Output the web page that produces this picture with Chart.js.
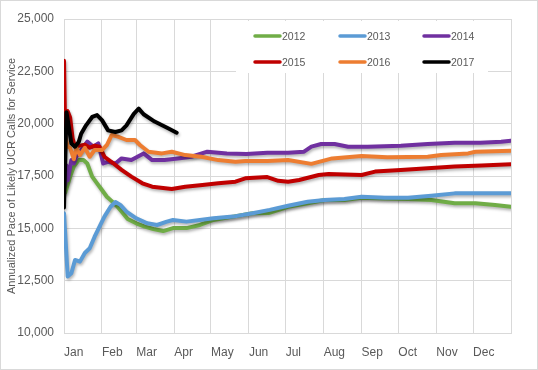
<!DOCTYPE html>
<html>
<head>
<meta charset="utf-8">
<script src="https://cdn.jsdelivr.net/npm/chart.js@4"></script>
<style>
  html, body { margin: 0; padding: 0; background: #fff; }
  canvas { display: block; }
</style>
</head>
<body>
<canvas id="paceChart" width="538" height="370"></canvas>
<script>
// month starts as day-of-year, plus the year end
const monthStarts = [0, 31, 59, 90, 120, 151, 181, 212, 243, 273, 304, 334, 365];
const monthLabels = ['Jan', 'Feb', 'Mar', 'Apr', 'May', 'Jun', 'Jul', 'Aug', 'Sep', 'Oct', 'Nov', 'Dec', ''];
const yTicks = [10000, 12500, 15000, 17500, 20000, 22500, 25000];

const days2012 = [0, 1, 5, 8, 12, 16, 19, 23, 27, 31, 35, 39, 43, 47, 52, 59, 66, 73, 81, 89, 100, 111, 122, 138, 154, 167, 183, 199, 213, 229, 243, 262, 281, 300, 319, 336, 352, 365];
const pace2012 = [19200, 16700, 17470, 17950, 18260, 18260, 18100, 17470, 17150, 16830, 16510, 16300, 16080, 15800, 15450, 15240, 15080, 14970, 14870, 15010, 15010, 15160, 15400, 15560, 15720, 15730, 16030, 16200, 16350, 16350, 16460, 16430, 16400, 16350, 16200, 16200, 16110, 16030];

const days2013 = [0, 3, 6, 9, 13, 17, 21, 25, 29, 33, 38, 42, 46, 51, 59, 68, 76, 84, 89, 100, 111, 122, 138, 154, 168, 183, 199, 213, 229, 243, 262, 281, 300, 319, 336, 365];
const pace2013 = [15720, 12700, 12850, 13490, 13410, 13820, 14050, 14600, 15080, 15560, 16030, 16260, 16120, 15800, 15480, 15240, 15160, 15320, 15400, 15320, 15400, 15480, 15560, 15720, 15880, 16080, 16270, 16350, 16400, 16510, 16460, 16460, 16560, 16670, 16670, 16670];

const days2014 = [1, 2, 3, 6, 8, 10, 14, 19, 24, 28, 32, 36, 42, 47, 55, 65, 72, 82, 93, 104, 117, 133, 149, 166, 183, 196, 202, 210, 221, 232, 248, 275, 297, 319, 340, 357, 365];
const pace2014 = [17100, 18000, 17300, 18260, 18100, 18420, 18740, 19140, 18900, 19060, 18100, 18180, 18100, 18340, 18260, 18580, 18260, 18260, 18340, 18420, 18660, 18580, 18550, 18610, 18610, 18660, 18900, 19030, 19030, 18900, 18900, 18950, 19030, 19090, 19090, 19140, 19190];

const days2015 = [0, 1, 3, 5, 7, 9, 13, 17, 21, 25, 29, 33, 40, 47, 55, 64, 72, 88, 99, 113, 126, 140, 148, 166, 175, 183, 192, 208, 216, 243, 254, 275, 297, 319, 341, 365];
const pace2015 = [23000, 19500, 20600, 20300, 19300, 18900, 18950, 19000, 18850, 18950, 18900, 18420, 18120, 17790, 17470, 17150, 16990, 16880, 16990, 17070, 17150, 17230, 17390, 17450, 17270, 17230, 17310, 17550, 17590, 17550, 17710, 17790, 17870, 17950, 18000, 18060];

const days2016 = [0, 3, 5, 8, 10, 13, 17, 21, 25, 31, 35, 39, 44, 51, 58, 62, 69, 80, 88, 99, 112, 126, 140, 148, 166, 183, 202, 219, 243, 264, 297, 308, 330, 336, 365];
const pace2016 = [19700, 18900, 18850, 18300, 18850, 18500, 18850, 18420, 18740, 18740, 18980, 19460, 19380, 19220, 19220, 18980, 18660, 18580, 18660, 18500, 18420, 18260, 18180, 18220, 18220, 18260, 18080, 18340, 18450, 18400, 18420, 18500, 18580, 18660, 18710];

const days2017 = [0, 2, 3, 6, 9, 12, 14, 18, 23, 27, 31, 36, 42, 47, 51, 57, 61, 65, 74, 85, 92];
const pace2017 = [16000, 20550, 20200, 19050, 18900, 19120, 19520, 19920, 20320, 20410, 20170, 19680, 19600, 19680, 19920, 20470, 20720, 20450, 20100, 19780, 19570];

const seriesLabels = ['2012', '2013', '2014', '2015', '2016', '2017'];
const seriesColors = ['#70ad47', '#5b9bd5', '#7030a0', '#c00000', '#ed7d31', '#000000'];
const seriesDays = [days2012, days2013, days2014, days2015, days2016, days2017];
const seriesPace = [pace2012, pace2013, pace2014, pace2015, pace2016, pace2017];

const textColor = '#595959';
const gridColor = '#d9d9d9';

const frame = {
    id: 'frame',
    beforeDraw(chart) {
        const ctx = chart.ctx;
        ctx.save();
        ctx.fillStyle = '#fff';
        ctx.fillRect(0, 0, chart.width, chart.height);
        ctx.restore();
    },
    beforeDatasetsDraw(chart) {
        const ctx = chart.ctx;
        ctx.save();
        ctx.shadowColor = 'rgba(0, 0, 0, 0.3)';
        ctx.shadowBlur = 3;
        ctx.shadowOffsetX = 1;
        ctx.shadowOffsetY = 2;
    },
    afterDatasetsDraw(chart) {
        chart.ctx.restore();
    },
    afterDraw(chart) {
        const ctx = chart.ctx;
        ctx.save();
        // legend box sits inside the plot, top right
        ctx.fillStyle = '#fff';
        ctx.fillRect(236, 21, 252, 52);
        const cols = [255, 340, 424];
        const rows = [36, 62];
        ctx.font = '10.5px "Liberation Sans", Arial, sans-serif';
        ctx.textBaseline = 'middle';
        ctx.textAlign = 'left';
        chart.data.datasets.forEach((ds, i) => {
            const x = cols[i % 3];
            const y = rows[Math.floor(i / 3)];
            ctx.strokeStyle = ds.borderColor;
            ctx.lineWidth = 3.5;
            ctx.lineCap = 'round';
            ctx.beginPath();
            ctx.moveTo(x, y);
            ctx.lineTo(x + 25, y);
            ctx.stroke();
            ctx.fillStyle = textColor;
            ctx.fillText(ds.label, x + 27, y + 1);
        });
        // outer chart border
        ctx.strokeStyle = gridColor;
        ctx.lineWidth = 1;
        ctx.strokeRect(0.5, 0.5, chart.width - 1, chart.height - 1);
        ctx.restore();
    }
};

const datasets = seriesLabels.map((label, i) => ({
    label: label,
    data: seriesDays[i].map((d, j) => ({ x: d, y: seriesPace[i][j] })),
    borderColor: seriesColors[i],
    backgroundColor: seriesColors[i],
    borderWidth: 4,
    borderJoinStyle: 'round',
    borderCapStyle: 'round',
    pointRadius: 0,
    tension: 0,
    order: seriesLabels.length - i
}));

const ctx = document.getElementById('paceChart').getContext('2d');
new Chart(ctx, {
    type: 'line',
    data: { datasets: datasets },
    plugins: [frame],
    options: {
        responsive: false,
        animation: false,
        devicePixelRatio: 1,
        layout: { padding: { top: 19, right: 27, bottom: 0, left: 0 } },
        plugins: {
            legend: { display: false },
            tooltip: { enabled: false }
        },
        scales: {
            x: {
                type: 'linear',
                min: 0,
                max: 365,
                afterBuildTicks: (scale) => {
                    scale.ticks = monthStarts.map(v => ({ value: v }));
                },
                afterFit: (scale) => { scale.height = 37; },
                ticks: {
                    autoSkip: false,
                    maxRotation: 0,
                    align: 'start',
                    padding: 12,
                    color: textColor,
                    font: { family: '"Liberation Sans", Arial, sans-serif', size: 12 },
                    callback: (value, index) => monthLabels[index]
                },
                grid: { color: gridColor, drawTicks: false },
                border: { color: gridColor }
            },
            y: {
                min: 10000,
                max: 25000,
                afterBuildTicks: (scale) => {
                    scale.ticks = yTicks.map(v => ({ value: v }));
                },
                afterFit: (scale) => { scale.width = 64; },
                ticks: {
                    padding: 10,
                    color: textColor,
                    font: { family: '"Liberation Sans", Arial, sans-serif', size: 12 },
                    callback: (value) => value.toLocaleString('en-US')
                },
                grid: { color: gridColor, drawTicks: false },
                border: { display: false },
                title: {
                    display: true,
                    text: 'Annualized Pace of Likely UCR Calls for Service',
                    color: textColor,
                    padding: { top: 5, bottom: 0 },
                    font: { family: '"Liberation Sans", Arial, sans-serif', size: 11 }
                }
            }
        }
    }
});
</script>
</body>
</html>
